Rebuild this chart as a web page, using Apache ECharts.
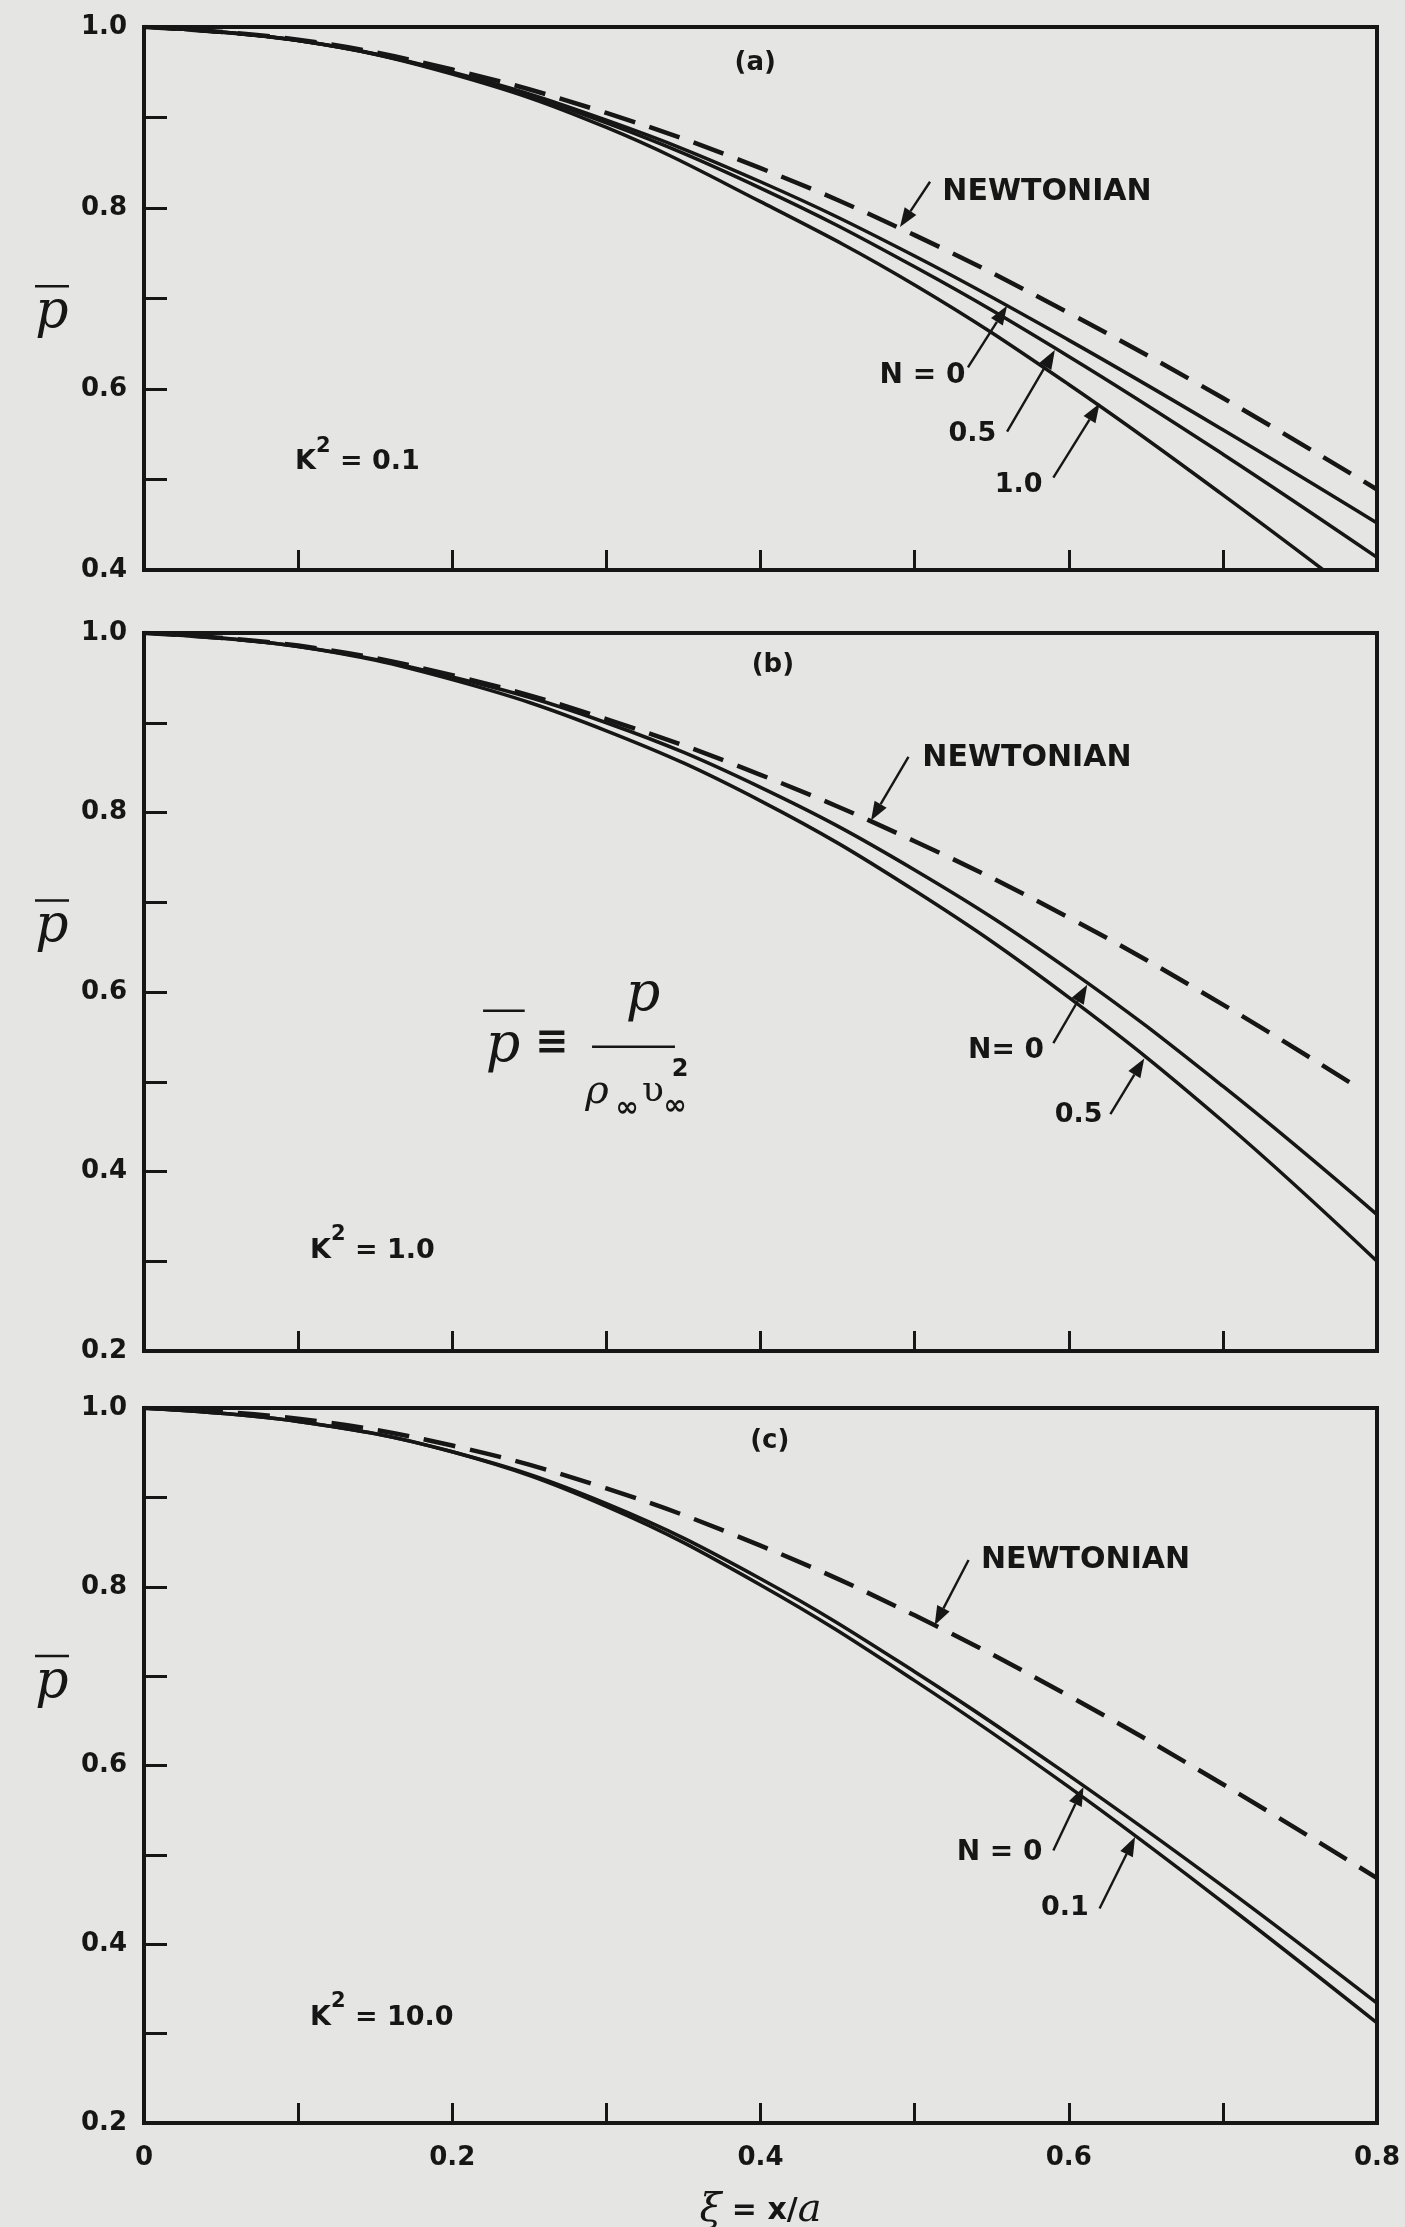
<!DOCTYPE html>
<html>
<head>
<meta charset="utf-8">
<script src="https://cdn.jsdelivr.net/npm/echarts@6/dist/echarts.min.js"></script>
<style>
  html, body { margin: 0; padding: 0; background: #e5e5e3; }
  #chart { width: 1405px; height: 2227px; }
</style>
</head>
<body>
<div id="chart"></div>
<script>
// ---------------- data ----------------
const xi        = [0, 0.1, 0.2, 0.3, 0.4, 0.5, 0.6, 0.7, 0.8];
const xiNewtonB = [0, 0.1, 0.2, 0.3, 0.4, 0.5, 0.6, 0.7, 0.79];

// panel (a)  K^2 = 0.1
const newtonA = [1.000, 0.986, 0.953, 0.905, 0.844, 0.770, 0.684, 0.590, 0.489];
const aN0     = [1.000, 0.985, 0.950, 0.897, 0.829, 0.747, 0.654, 0.555, 0.452];
const aN05    = [1.000, 0.985, 0.949, 0.894, 0.822, 0.735, 0.636, 0.528, 0.414];
const aN10    = [1.000, 0.985, 0.948, 0.889, 0.807, 0.715, 0.605, 0.483, 0.355];

// panel (b)  K^2 = 1.0
const newtonB = [1.000, 0.986, 0.953, 0.904, 0.842, 0.768, 0.683, 0.586, 0.491];
const bN0     = [1.000, 0.985, 0.951, 0.900, 0.828, 0.736, 0.625, 0.495, 0.352];
const bN05    = [1.000, 0.985, 0.948, 0.891, 0.813, 0.713, 0.594, 0.456, 0.300];

// panel (c)  K^2 = 10.0
const newtonC = [1.000, 0.988, 0.958, 0.910, 0.846, 0.768, 0.678, 0.579, 0.474];
const cN0     = [1.000, 0.985, 0.951, 0.893, 0.809, 0.705, 0.589, 0.465, 0.334];
const cN01    = [1.000, 0.985, 0.951, 0.890, 0.802, 0.695, 0.576, 0.447, 0.312];

const xTickLabels  = ['0', '0.2', '0.4', '0.6', '0.8'];
const yTickLabelsA = ['1.0', '0.8', '0.6', '0.4'];
const yTickLabelsB = ['1.0', '0.8', '0.6', '0.4', '0.2'];
const yTickLabelsC = ['1.0', '0.8', '0.6', '0.4', '0.2'];

const panelTags   = ['(a)', '(b)', '(c)'];
const kappaValues = ['0.1', '1.0', '10.0'];

// ---------------- layout / style ----------------
const INK = '#161616';
const SANS = "'DejaVu Sans', 'Liberation Sans', sans-serif";
const SERIF = "'DejaVu Serif', 'Liberation Serif', serif";
const layout = [
  { top: 27,   height: 543, yMin: 0.4, yLabels: yTickLabelsA },
  { top: 633,  height: 718, yMin: 0.2, yLabels: yTickLabelsB },
  { top: 1408, height: 715, yMin: 0.2, yLabels: yTickLabelsC }
];
const GRID_LEFT = 144, GRID_RIGHT = 28;

const chart = echarts.init(document.getElementById('chart'), null, { renderer: 'canvas' });

function fmt(v) {
  return Math.abs(v) < 1e-9 ? '0' : v.toFixed(1);
}

const grids = layout.map(l => ({
  left: GRID_LEFT, right: GRID_RIGHT, top: l.top, height: l.height,
  show: true, borderColor: INK, borderWidth: 4, backgroundColor: 'transparent',
  containLabel: false, outerBoundsMode: 'none'
}));

const xAxes = layout.map((l, i) => ({
  type: 'value', gridIndex: i, min: 0, max: 0.8, interval: 0.1,
  axisLine: { show: true, onZero: false, lineStyle: { color: INK, width: 4 } },
  axisTick: { show: true, inside: true, length: 20, lineStyle: { color: INK, width: 3 } },
  splitLine: { show: false },
  axisLabel: {
    show: i === 2, margin: 22, fontSize: 26, fontWeight: 'bold', fontFamily: SANS, color: INK,
    showMinLabel: true, showMaxLabel: true, hideOverlap: false,
    formatter: v => { const s = fmt(v); return xTickLabels.includes(s) ? s : ''; }
  },
  name: i === 2 ? '{xi|ξ}{b| = x/}{a|a}' : '',
  nameLocation: 'middle', nameGap: 68,
  nameTextStyle: {
    color: INK,
    rich: {
      xi: { fontFamily: SERIF, fontStyle: 'italic', fontSize: 40, color: INK },
      b:  { fontFamily: SANS, fontWeight: 'bold', fontSize: 30, color: INK },
      a:  { fontFamily: SERIF, fontStyle: 'italic', fontSize: 40, color: INK }
    }
  }
}));

const yAxes = layout.map((l, i) => ({
  type: 'value', gridIndex: i, min: l.yMin, max: 1.0, interval: 0.1,
  axisLine: { show: true, onZero: false, lineStyle: { color: INK, width: 4 } },
  axisTick: { show: true, inside: true, length: 23, lineStyle: { color: INK, width: 3 } },
  splitLine: { show: false },
  axisLabel: {
    show: true, margin: 17, fontSize: 26, fontWeight: 'bold', fontFamily: SANS, color: INK,
    showMinLabel: true, showMaxLabel: true, hideOverlap: false,
    formatter: v => { const s = fmt(v); return l.yLabels.includes(s) ? s : ''; }
  }
}));

function curve(name, gi, xs, ys, dashed) {
  return {
    name, type: 'line', xAxisIndex: gi, yAxisIndex: gi,
    data: xs.map((x, k) => [x, ys[k]]),
    showSymbol: false, symbol: 'none', smooth: 0.4,
    clip: true, silent: true, animation: false,
    lineStyle: dashed ? { color: INK, width: 4.5, type: [32, 15] } : { color: INK, width: 3.5, type: 'solid' },
    z: dashed ? 3 : 2
  };
}

const series = [
  curve('Newtonian (a)', 0, xi, newtonA, true),
  curve('N=0 (a)',   0, xi, aN0,  false),
  curve('N=0.5 (a)', 0, xi, aN05, false),
  curve('N=1.0 (a)', 0, xi, aN10, false),
  curve('Newtonian (b)', 1, xiNewtonB, newtonB, true),
  curve('N=0 (b)',   1, xi, bN0,  false),
  curve('N=0.5 (b)', 1, xi, bN05, false),
  curve('Newtonian (c)', 2, xi, newtonC, true),
  curve('N=0 (c)',   2, xi, cN0,  false),
  curve('N=0.1 (c)', 2, xi, cN01, false)
];

chart.setOption({
  animation: false,
  backgroundColor: '#e5e5e3',
  grid: grids, xAxis: xAxes, yAxis: yAxes, series
});

// ---------------- annotations (positions in data space of each panel) ----------------
const curveLabels = [
  { g: 0, text: 'NEWTONIAN', at: [0.518, 0.818], align: 'left',  tail: [0.510, 0.829], tip: [0.4905, 0.779], size: 30 },
  { g: 0, text: 'N = 0',     at: [0.533, 0.615], align: 'right', tail: [0.5346, 0.624], tip: [0.560, 0.692], size: 28 },
  { g: 0, text: '0.5',       at: [0.553, 0.550], align: 'right', tail: [0.560, 0.553], tip: [0.591, 0.643], size: 27 },
  { g: 0, text: '1.0',       at: [0.583, 0.494], align: 'right', tail: [0.590, 0.502], tip: [0.620, 0.584], size: 27 },
  { g: 1, text: 'NEWTONIAN', at: [0.505, 0.861], align: 'left',  tail: [0.496, 0.862], tip: [0.4717, 0.791], size: 30 },
  { g: 1, text: 'N= 0',      at: [0.584, 0.535], align: 'right', tail: [0.590, 0.543], tip: [0.612, 0.608], size: 28 },
  { g: 1, text: '0.5',       at: [0.622, 0.463], align: 'right', tail: [0.627, 0.464], tip: [0.649, 0.526], size: 27 },
  { g: 2, text: 'NEWTONIAN', at: [0.543, 0.830], align: 'left',  tail: [0.535, 0.830], tip: [0.513, 0.757], size: 30 },
  { g: 2, text: 'N = 0',     at: [0.583, 0.502], align: 'right', tail: [0.590, 0.505], tip: [0.6096, 0.576], size: 28 },
  { g: 2, text: '0.1',       at: [0.613, 0.441], align: 'right', tail: [0.620, 0.440], tip: [0.643, 0.520], size: 27 }
];
const tagAt   = [[0.3966, 0.960], [0.408, 0.964], [0.406, 0.9625]];
const kappaAt = [[0.098, 0.526], [0.1077, 0.319], [0.1077, 0.325]];
const yNameV  = [0.686, 0.674, 0.6945];

const px = (g, p) => chart.convertToPixel({ gridIndex: g }, p);
const gfx = [];

function text(x, y, t, font, align, valign) {
  gfx.push({ type: 'text', x, y, silent: true, z: 10,
    style: { text: t, font, fill: INK, align: align || 'center', verticalAlign: valign || 'middle' } });
}
function seg(a, b, w) {
  gfx.push({ type: 'line', silent: true, z: 10,
    shape: { x1: a[0], y1: a[1], x2: b[0], y2: b[1] }, style: { stroke: INK, lineWidth: w || 2 } });
}
function arrow(a, b) {
  const dx = b[0] - a[0], dy = b[1] - a[1];
  const L = Math.hypot(dx, dy), ux = dx / L, uy = dy / L;
  const hl = 19, hw = 7;
  const base = [b[0] - ux * hl, b[1] - uy * hl];
  seg(a, base, 2.4);
  gfx.push({ type: 'polygon', silent: true, z: 10,
    shape: { points: [b, [base[0] - uy * hw, base[1] + ux * hw], [base[0] + uy * hw, base[1] - ux * hw]] },
    style: { fill: INK } });
}

curveLabels.forEach(l => {
  const p = px(l.g, l.at);
  text(p[0], p[1], l.text, `bold ${l.size}px ${SANS}`, l.align);
  arrow(px(l.g, l.tail), px(l.g, l.tip));
});

panelTags.forEach((t, g) => {
  const p = px(g, tagAt[g]);
  text(p[0], p[1], t, `bold 26px ${SANS}`);
});

kappaValues.forEach((v, g) => {
  const p = px(g, kappaAt[g]);
  gfx.push({ type: 'text', x: p[0], y: p[1], silent: true, z: 10,
    style: {
      text: `{k|K}{s|2}{k| = ${v}}`, align: 'left', verticalAlign: 'middle',
      rich: {
        k: { font: `bold 27px ${SANS}`, fill: INK, verticalAlign: 'bottom', lineHeight: 40 },
        s: { font: `bold 21px ${SANS}`, fill: INK, verticalAlign: 'top' }
      }
    } });
});

// y axis name  p̄  for each panel
yNameV.forEach((v, g) => {
  const p = px(g, [0, v]);
  const cx = 52;
  text(cx, p[1] + 2, 'p', `italic 52px ${SERIF}`);
  seg([cx - 17, p[1] - 25], [cx + 17, p[1] - 25], 2.5);
});

// definition in panel (b):  p̄ ≡ p / (ρ∞ υ∞²)
const fb = 1;
(() => {
  const pb = px(fb, [0.2329, 0.539]);
  text(pb[0], pb[1], 'p', `italic 54px ${SERIF}`);
  const ob1 = px(fb, [0.220, 0.5790]), ob2 = px(fb, [0.2470, 0.5790]);
  seg(ob1, ob2, 2.5);
  const eq = px(fb, [0.2647, 0.5426]);
  text(eq[0], eq[1], '≡', `bold 40px ${SANS}`);
  const num = px(fb, [0.3238, 0.5955]);
  text(num[0], num[1], 'p', `italic 54px ${SERIF}`);
  seg(px(fb, [0.2907, 0.539]), px(fb, [0.3445, 0.539]), 2.5);
  const rho = px(fb, [0.2939, 0.4880]);
  text(rho[0], rho[1], 'ρ', `italic 40px ${SERIF}`);
  const inf1 = px(fb, [0.3134, 0.4700]);
  text(inf1[0], inf1[1], '∞', `bold 28px ${SANS}`);
  const ups = px(fb, [0.3302, 0.4890]);
  text(ups[0], ups[1], 'υ', `36px ${SERIF}`);
  const inf2 = px(fb, [0.3445, 0.4720]);
  text(inf2[0], inf2[1], '∞', `bold 28px ${SANS}`);
  const two = px(fb, [0.3478, 0.5131]);
  text(two[0], two[1], '2', `bold 24px ${SANS}`);
})();

chart.setOption({ graphic: gfx });
</script>
</body>
</html>
